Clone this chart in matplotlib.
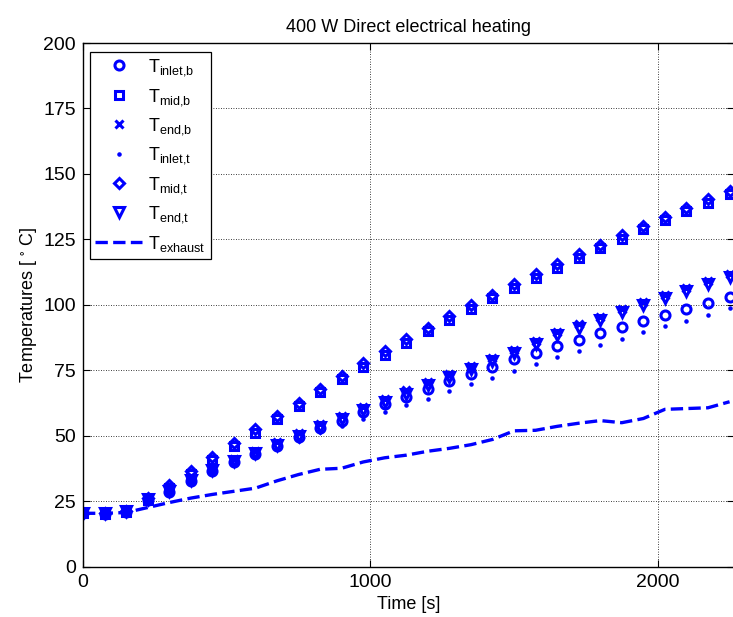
import matplotlib
matplotlib.use('Agg')
import matplotlib.pyplot as plt

plt.rcParams['font.family'] = ['Liberation Sans', 'DejaVu Sans']
plt.rcParams['mathtext.fontset'] = 'custom'
plt.rcParams['mathtext.rm'] = 'Liberation Sans'
plt.rcParams['mathtext.it'] = 'Liberation Sans'
plt.rcParams['mathtext.bf'] = 'Liberation Sans:bold'

# sample times [s]
time_s = [0, 75, 150, 225, 300, 375, 450, 525, 600, 675, 750,
          825, 900, 975, 1050, 1125, 1200, 1275, 1350, 1425, 1500,
          1575, 1650, 1725, 1800, 1875, 1950, 2025, 2100, 2175, 2250]

# bottom sensors
T_inlet_b = [20.4, 20.3, 21.0, 25.5, 28.6, 32.8, 36.6, 39.8, 43.0, 46.0, 49.4,
             52.8, 55.8, 59.2, 62.2, 65.0, 67.8, 70.8, 73.6, 76.2, 79.3,
             81.7, 84.1, 86.7, 89.1, 91.6, 93.9, 96.1, 98.3, 100.6, 103.1]
T_mid_b = [20.4, 20.2, 21.0, 25.5, 30.2, 35.3, 40.6, 46.0, 51.2, 56.3, 61.4,
           66.6, 71.5, 76.4, 81.0, 85.6, 90.0, 94.4, 98.5, 102.6, 106.6,
           110.4, 114.2, 118.0, 121.6, 125.2, 129.0, 132.4, 135.8, 139.0, 142.2]
T_end_b = [20.5, 20.5, 21.6, 26.3, 29.6, 34.0, 37.8, 41.0, 44.3, 47.5, 50.9,
           54.4, 57.5, 61.1, 64.2, 67.3, 70.7, 73.7, 76.7, 79.7, 82.9,
           86.1, 89.5, 92.5, 95.3, 98.3, 101.2, 103.7, 106.5, 109.1, 111.8]

# top sensors
T_inlet_t = [20.4, 20.2, 20.8, 25.2, 28.4, 32.4, 36.0, 39.2, 42.2, 45.0, 48.2,
             51.6, 53.8, 56.4, 59.0, 61.6, 64.2, 67.0, 69.6, 72.2, 74.8,
             77.4, 80.0, 82.3, 84.8, 87.1, 89.8, 91.8, 94.0, 96.3, 98.9]
T_mid_t = [20.6, 20.4, 21.3, 26.2, 31.2, 36.5, 41.9, 47.3, 52.5, 57.6, 62.7,
           67.9, 72.8, 77.7, 82.3, 86.9, 91.3, 95.7, 99.8, 103.9, 107.9,
           111.7, 115.5, 119.3, 122.9, 126.5, 130.3, 133.7, 137.1, 140.3, 143.5]
T_end_t = [20.4, 20.4, 21.3, 25.7, 28.8, 33.2, 37.0, 40.2, 43.4, 46.6, 50.0,
           53.4, 56.4, 59.9, 63.0, 66.1, 69.5, 72.5, 75.5, 78.5, 81.7,
           84.9, 88.3, 91.3, 94.1, 97.1, 100.0, 102.5, 105.3, 107.9, 110.6]

T_exhaust = [20.4, 20.4, 20.7, 22.6, 24.5, 26.2, 27.6, 28.8, 30.0, 32.8, 35.2,
             37.2, 37.6, 40.0, 41.6, 42.6, 44.1, 45.2, 46.6, 48.6, 51.9,
             52.1, 53.6, 54.8, 55.8, 55.0, 56.6, 60.1, 60.4, 60.7, 63.0]

blue = (0, 0, 1)

fig = plt.figure(figsize=(7.33, 6.17), dpi=100)
ax = fig.add_axes([0.1132, 0.0815, 0.888, 0.8488])

mk = dict(linestyle='none', color=blue, markerfacecolor='none',
          markeredgecolor=blue, markeredgewidth=2.2)
ax.plot(time_s, T_inlet_b, marker='o', markersize=6.5,
        label=r'$\mathregular{T_{inlet{,}b}}$', **mk)
ax.plot(time_s, T_mid_b, marker='s', markersize=5.5,
        label=r'$\mathregular{T_{mid{,}b}}$', **mk)
ax.plot(time_s, T_end_b, marker='x', markersize=5.5,
        label=r'$\mathregular{T_{end{,}b}}$', **mk)
ax.plot(time_s, T_inlet_t, marker='.', markersize=4.5, linestyle='none',
        color=blue, markeredgewidth=1,
        label=r'$\mathregular{T_{inlet{,}t}}$')
ax.plot(time_s, T_mid_t, marker='D', markersize=5,
        label=r'$\mathregular{T_{mid{,}t}}$', **mk)
ax.plot(time_s, T_end_t, marker='v', markersize=7.5,
        label=r'$\mathregular{T_{end{,}t}}$', **mk)
ax.plot(time_s, T_exhaust, linestyle='--', color=blue, linewidth=2.4,
        label=r'$\mathregular{T_{exhaust}}$')

ax.set_xlim(0, 2265)
ax.set_ylim(0, 200)
ax.set_xticks([0, 1000, 2000])
ax.set_yticks(range(0, 201, 25))
ax.tick_params(direction='in', length=5, width=0.8, labelsize=14,
               top=True, right=True, pad=5)
ax.grid(True, linestyle=(0, (1, 2)), color='k', linewidth=0.6)
for s in ax.spines.values():
    s.set_linewidth(1.0)

ax.set_title('400 W Direct electrical heating', fontsize=13, pad=8)
ax.set_xlabel('Time [s]', fontsize=13, labelpad=4)
ax.set_ylabel(r'Temperatures [ $\mathregular{^{\circ}}$ C]', fontsize=13,
              labelpad=3)

leg = ax.legend(loc='upper left', bbox_to_anchor=(0.0108, 0.983),
                borderaxespad=0, fontsize=13, fancybox=False,
                edgecolor='k', framealpha=1, labelspacing=0.47,
                handlelength=2.6, handletextpad=0.3, borderpad=0.3,
                numpoints=1)
leg.get_frame().set_linewidth(0.9)

fig.savefig('out.png', dpi=100)
